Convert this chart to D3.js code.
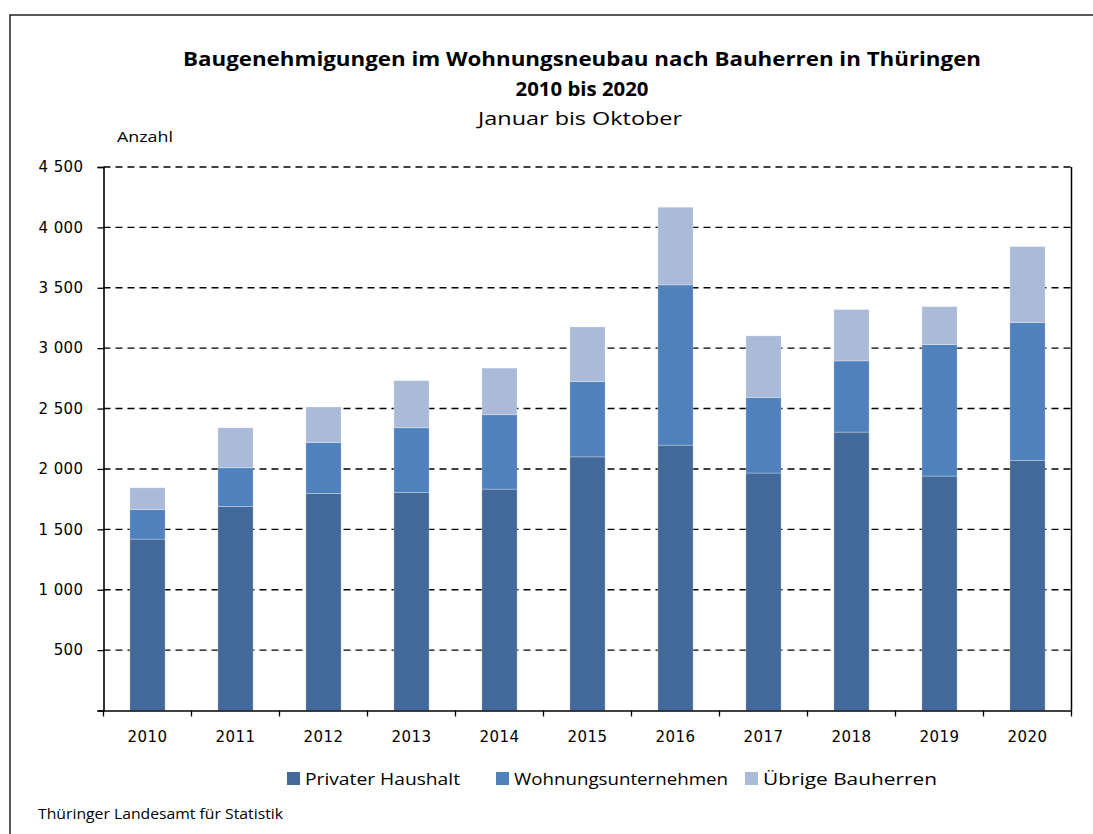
<!DOCTYPE html>
<html><head><meta charset="utf-8">
<script src="https://cdn.jsdelivr.net/npm/d3@7"></script>
<style>body{margin:0;background:#fff}svg{display:block}</style>
</head><body>
<svg id="c" width="1093" height="834"></svg>
<script>
const years = ["2010","2011","2012","2013","2014","2015","2016","2017","2018","2019","2020"];
const privat = [1419,1689,1797,1805,1833,2100,2197,1966,2305,1941,2071];
const wohnU  = [245,321,422,536,616,624,1327,626,590,1089,1141];
const uebrige= [180,331,294,390,386,452,643,510,425,314,629];
const seriesNames = ["Privater Haushalt","Wohnungsunternehmen","Übrige Bauherren"];
const colors = ["#41699a","#4f81bd","#abbad8"];
const yTicks = [0,500,1000,1500,2000,2500,3000,3500,4000,4500];

const svg = d3.select("#c");
const L=103.5, R=1071.5, T=167, B=710.5;
svg.append("rect").attr("x",10).attr("y",15).attr("width",1100).attr("height",840)
  .attr("fill","none").attr("stroke","#000").attr("stroke-width",1.3);

const x = d3.scaleBand().domain(years).range([L,R]).paddingInner(0.6).paddingOuter(0.3);
const y = d3.scaleLinear().domain([0,4500]).range([B,T]);

// grid
svg.append("g").selectAll("line").data(yTicks.filter(d=>d>0)).join("line")
  .attr("x1",L).attr("x2",R).attr("y1",d=>y(d)).attr("y2",d=>y(d))
  .attr("stroke","#000").attr("stroke-width",1.4).attr("stroke-dasharray","7,5");

const data = years.map((yr,i)=>({year:yr,a:privat[i],b:wohnU[i],c:uebrige[i]}));
const stack = d3.stack().keys(["a","b","c"])(data);
svg.append("g").selectAll("g").data(stack).join("g").attr("fill",(d,i)=>colors[i])
  .selectAll("rect").data(d=>d).join("rect")
  .attr("x",d=>x(d.data.year)).attr("width",x.bandwidth())
  .attr("y",d=>y(d[1])).attr("height",d=>y(d[0])-y(d[1]))
  .attr("stroke","rgba(255,255,255,0.35)").attr("stroke-width",0.8);

// right border
svg.append("line").attr("x1",R).attr("x2",R).attr("y1",T).attr("y2",B).attr("stroke","#000").attr("stroke-width",1.5);

const yAxis = svg.append("g").attr("transform",`translate(${L},0)`)
  .call(d3.axisLeft(y).tickValues(yTicks).tickSize(6).tickPadding(14).tickFormat(d=>d===0?"":d3.format(",")(d).replace(","," ")));
yAxis.select(".domain").attr("stroke-width",1.6);
yAxis.selectAll("line").attr("stroke-width",1.3);
yAxis.selectAll("text").attr("font-family","DejaVu Sans").attr("font-size",15).attr("fill","#000")
  .attr("letter-spacing","0.4px");

const xB = d3.scaleBand().domain(years).range([L,R]);
const xAxis = svg.append("g").attr("transform",`translate(0,${B})`)
  .call(d3.axisBottom(xB).tickSize(0).tickPadding(21));
xAxis.select(".domain").attr("stroke-width",1.6);
xAxis.selectAll("text").attr("font-family","DejaVu Sans").attr("font-size",15).attr("fill","#000")
  .attr("letter-spacing","0.4px");
// x tick marks at band boundaries
svg.append("g").selectAll("line").data(years.concat(["end"])).join("line")
  .attr("x1",(d,i)=>L+i*xB.step()).attr("x2",(d,i)=>L+i*xB.step())
  .attr("y1",B).attr("y2",B+6).attr("stroke","#000").attr("stroke-width",1.3);

// titles
const tf = "'Open Sans', 'Noto Sans', sans-serif";
svg.append("text").attr("x",582).attr("y",66).attr("text-anchor","middle")
  .attr("font-family",tf).attr("font-weight","bold").attr("font-size",19)
  .attr("textLength",798).attr("lengthAdjust","spacingAndGlyphs")
  .text("Baugenehmigungen im Wohnungsneubau nach Bauherren in Thüringen");
svg.append("text").attr("x",582).attr("y",96).attr("text-anchor","middle")
  .attr("font-family",tf).attr("font-weight","bold").attr("font-size",19)
  .attr("textLength",133).attr("lengthAdjust","spacingAndGlyphs")
  .text("2010 bis 2020");
svg.append("text").attr("x",580).attr("y",125).attr("text-anchor","middle")
  .attr("font-family",tf).attr("font-size",19)
  .attr("textLength",204).attr("lengthAdjust","spacingAndGlyphs")
  .text("Januar bis Oktober");
svg.append("text").attr("x",117).attr("y",142)
  .attr("font-family",tf).attr("font-size",15)
  .attr("textLength",56).attr("lengthAdjust","spacingAndGlyphs").text("Anzahl");

// legend
const legX = [287,496,745], legW=[155,214,174];
const lg = svg.append("g").selectAll("g").data(seriesNames).join("g")
  .attr("transform",(d,i)=>`translate(${legX[i]},${772})`);
lg.append("rect").attr("width",13).attr("height",13).attr("fill",(d,i)=>colors[i]);
lg.append("text").attr("x",18).attr("y",12.5).attr("font-family",tf).attr("font-size",17)
  .attr("textLength",(d,i)=>legW[i]).attr("lengthAdjust","spacingAndGlyphs").text(d=>d);

svg.append("text").attr("x",38).attr("y",819).attr("font-family",tf).attr("font-size",14)
  .attr("textLength",245).attr("lengthAdjust","spacingAndGlyphs").text("Thüringer Landesamt für Statistik");
</script>
</body></html>
